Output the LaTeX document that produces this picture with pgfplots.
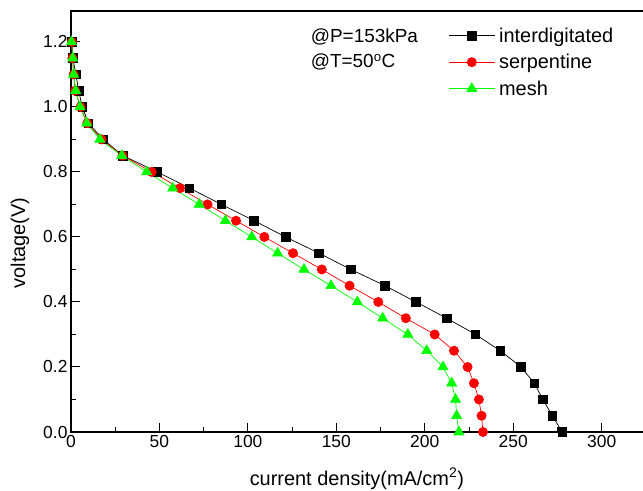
\documentclass[border=0pt]{standalone}
\usepackage{pgfplots}
\pgfplotsset{compat=1.18}
\usepackage{fontspec}
\setmainfont{Liberation Sans}
\definecolor{mygreen}{RGB}{0,255,0}
\definecolor{myred}{RGB}{255,0,0}
\begin{document}
\begin{tikzpicture}
\begin{axis}[
  scale only axis,
  width=574bp, height=421bp,
  xmin=0, xmax=324.5, ymin=0, ymax=1.295,
  clip=false,
  axis line style={line width=1.2bp},
  xtick={0,50,...,300}, ytick={0,0.2,...,1.2},
  minor x tick num=1, minor y tick num=1,
  xtick pos=left, ytick pos=left,
  tick align=inside,
  major tick length=9bp, minor tick length=5bp,
  every tick/.style={black, line width=1bp},
  /pgf/number format/assume math mode=true,
  yticklabel style={/pgf/number format/fixed, /pgf/number format/fixed zerofill, /pgf/number format/precision=1},
  xticklabel style={/pgf/number format/fixed},
  tick label style={font=\fontsize{17.5}{20}\selectfont},
  xlabel={current density(mA/cm\textsuperscript{2})},
  ylabel={voltage(V)},
  label style={font=\fontsize{20}{24}\selectfont},
  xlabel style={at={(axis description cs:0.498,-0.126)}, anchor=base},
  ylabel style={at={(axis description cs:-0.0801,0.449)}, anchor=base},
  legend cell align=left,
  legend style={at={(axis description cs:0.652,0.970)}, anchor=north west, draw=none, fill=none,
    font=\fontsize{20}{24}\selectfont, row sep=6.5bp,
    nodes={inner xsep=4bp}},
  legend image code/.code={\draw[mark repeat=2,mark phase=2] plot coordinates {(0bp,0bp) (23bp,0bp) (46bp,0bp)};},
]
\addplot[black, line width=0.7bp, mark=square*, mark size=4.3bp, mark options={solid, fill=black}] coordinates {
(0.5,1.20)(1.0,1.15)(2.8,1.10)(4.3,1.05)(6.4,1.00)(9.8,0.95)(18.2,0.90)(29.3,0.85)(48.8,0.80)(67.0,0.75)(85.1,0.70)(103.5,0.65)(121.3,0.60)(140.2,0.55)(158.2,0.50)(177.5,0.45)(195,0.40)(212.4,0.35)(228.7,0.30)(242.7,0.25)(254.4,0.20)(261.9,0.15)(266.8,0.10)(272.1,0.05)(277.7,0.0)};
\addlegendentry{interdigitated}
\addplot[myred, line width=0.7bp, mark=*, mark size=4.6bp, mark options={solid, fill=myred, draw=myred}] coordinates {
(0.5,1.20)(0.8,1.15)(1.5,1.10)(2.3,1.05)(5.4,1.00)(9.2,0.95)(17.3,0.90)(29.1,0.85)(45.6,0.80)(61.6,0.75)(77.2,0.70)(93.3,0.65)(109.3,0.60)(125.5,0.55)(141.8,0.50)(157.5,0.45)(173.7,0.40)(189.3,0.35)(205.6,0.30)(216.5,0.25)(224.2,0.20)(227.8,0.15)(230.6,0.10)(232.1,0.05)(232.9,0.0)};
\addlegendentry{serpentine}
\addplot[mygreen, line width=0.7bp, mark=triangle*, mark size=5.8bp, mark options={solid, fill=mygreen, draw=mygreen}] coordinates {
(0.3,1.20)(1.0,1.15)(1.5,1.10)(2.6,1.05)(5.1,1.00)(8.9,0.95)(16.3,0.90)(28.7,0.85)(42.8,0.80)(57.5,0.75)(72.5,0.70)(87.3,0.65)(102.2,0.60)(116.8,0.55)(131.7,0.50)(147,0.45)(161.9,0.40)(176.2,0.35)(190.4,0.30)(201.1,0.25)(210.3,0.20)(215.2,0.15)(217.4,0.10)(218,0.05)(219.3,0.0)};
\addlegendentry{mesh}
\node[anchor=west, font=\fontsize{19}{23}\selectfont, inner sep=0pt] at (axis cs:135.5,1.215) {@P=153kPa};
\node[anchor=west, font=\fontsize{19}{23}\selectfont, inner sep=0pt] at (axis cs:135.5,1.138) {@T=50\textsuperscript{o}C};
\end{axis}
\pgfresetboundingbox
\path[use as bounding box] (-71bp,-59bp) rectangle (572bp,432bp);
\end{tikzpicture}
\end{document}
